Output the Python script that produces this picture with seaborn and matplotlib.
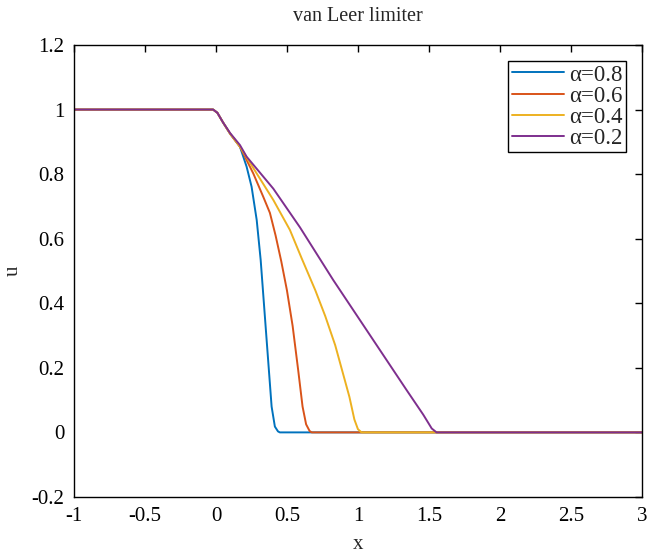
import matplotlib
matplotlib.use('Agg')
import matplotlib.pyplot as plt
import matplotlib.ticker as mticker
import seaborn as sns

# data (x, u) for each alpha
x_08 = [-1, -0.02, 0.01, 0.05, 0.1, 0.169, 0.216, 0.251, 0.287, 0.315, 0.357,
        0.392, 0.415, 0.437, 0.45, 3]
u_08 = [1, 1, 0.99, 0.96, 0.925, 0.885, 0.823, 0.761, 0.658, 0.534, 0.286,
        0.08, 0.018, 0.003, 0, 0]

x_06 = [-1, -0.02, 0.01, 0.05, 0.1, 0.169, 0.263, 0.333, 0.38, 0.42, 0.46,
        0.50, 0.54, 0.58, 0.61, 0.635, 0.66, 0.675, 3]
u_06 = [1, 1, 0.99, 0.96, 0.925, 0.885, 0.802, 0.73, 0.68, 0.61, 0.53,
        0.44, 0.33, 0.19, 0.08, 0.025, 0.004, 0, 0]

x_04 = [-1, -0.02, 0.01, 0.05, 0.1, 0.169, 0.287, 0.404, 0.521, 0.603, 0.70,
        0.77, 0.84, 0.89, 0.94, 0.975, 1.0, 1.025, 3]
u_04 = [1, 1, 0.99, 0.96, 0.925, 0.885, 0.802, 0.72, 0.627, 0.54, 0.44,
        0.36, 0.27, 0.19, 0.11, 0.04, 0.01, 0, 0]

x_02 = [-1, -0.02, 0.01, 0.05, 0.1, 0.169, 0.216, 0.404, 0.592, 0.826, 1.061,
        1.343, 1.46, 1.52, 1.554, 3]
u_02 = [1, 1, 0.99, 0.96, 0.927, 0.89, 0.854, 0.755, 0.635, 0.472, 0.317,
        0.131, 0.055, 0.012, 0, 0]

series = [(x_08, u_08, 'α=0.8'), (x_06, u_06, 'α=0.6'),
          (x_04, u_04, 'α=0.4'), (x_02, u_02, 'α=0.2')]
colors = ['#0072BD', '#D95319', '#EDB120', '#7E2F8E']

sns.set_theme(style='white')
plt.rcParams['font.family'] = ['Liberation Serif', 'DejaVu Serif']
plt.rcParams['axes.unicode_minus'] = False

fig = plt.figure(figsize=(6.49, 5.59), dpi=100)
ax = fig.add_axes([0.114, 0.111, 0.875, 0.8085])

for (xs, us, lab), c in zip(series, colors):
    sns.lineplot(x=xs, y=us, ax=ax, color=c, linewidth=1.4, label=lab,
                 sort=False, estimator=None)

ax.set_xlim(-1, 3)
ax.set_ylim(-0.2, 1.2)
ax.xaxis.set_major_locator(mticker.MultipleLocator(0.5))
ax.yaxis.set_major_locator(mticker.MultipleLocator(0.2))
fmt = mticker.FuncFormatter(lambda v, p: '%g' % round(v, 2))
ax.xaxis.set_major_formatter(fmt)
ax.yaxis.set_major_formatter(fmt)
ax.tick_params(direction='in', length=5, width=1, top=True, right=True,
               labelsize=15, colors='black', pad=7)

for s in ax.spines.values():
    s.set_color('black')
    s.set_linewidth(1.0)

ax.set_title('van Leer limiter', fontsize=14.5, pad=17)
ax.set_xlabel('x', fontsize=15, labelpad=7)
ax.set_ylabel('u', fontsize=15, labelpad=6)

leg = ax.legend(loc='upper right', fontsize=16.5, frameon=True, fancybox=False,
                framealpha=1, edgecolor='black', borderpad=0.15,
                labelspacing=0.0, handlelength=2.3, handletextpad=0.2,
                borderaxespad=0.7)
leg.get_frame().set_linewidth(1.0)

fig.savefig('out.png', dpi=100, facecolor='white')
